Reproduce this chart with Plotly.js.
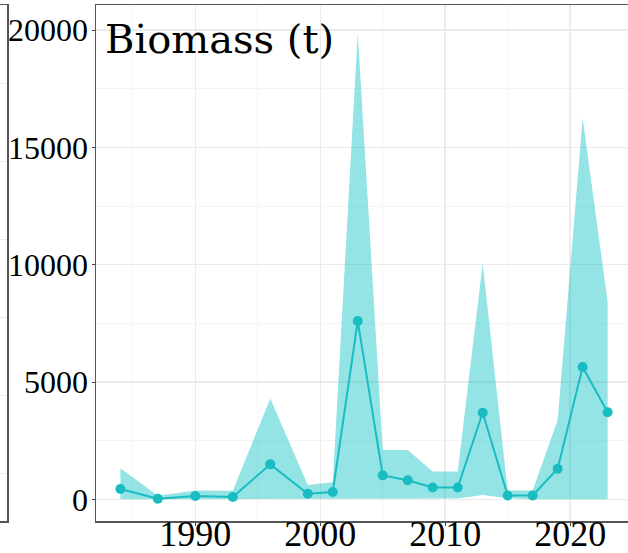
<!DOCTYPE html>
<html>
<head>
<meta charset="utf-8">
<script src="https://cdn.plot.ly/plotly-3.0.1.min.js"></script>
<style>
  html, body { margin: 0; padding: 0; overflow: hidden; background: #fff; }
  #chart { width: 632px; height: 553px; }
</style>
</head>
<body>
<div id="chart"></div>
<script>
// survey years and biomass estimate with its interval
var years = [1984, 1987, 1990, 1993, 1996, 1999, 2001, 2003, 2005, 2007, 2009, 2011, 2013, 2015, 2017, 2019, 2021, 2023];
var biomass = [440, 25, 140, 100, 1490, 240, 310, 7600, 1020, 810, 500, 500, 3690, 160, 160, 1300, 5640, 3710];
var upper = [1320, 150, 370, 360, 4300, 610, 725, 19900, 2100, 2100, 1180, 1180, 10050, 370, 370, 3380, 16240, 8420];
var lower = [0, 0, 0, 0, 0, 0, 0, 0, 0, 0, 0, 30, 180, 50, 0, 0, 0, 0];

var col = "#19bdc1";
var W = 632;

var lowTrace = {
  x: years, y: lower, type: "scatter", mode: "lines",
  line: {width: 0}, hoverinfo: "skip", showlegend: false
};
var upTrace = {
  x: years, y: upper, type: "scatter", mode: "lines",
  fill: "tonexty", fillcolor: "rgba(0,191,196,0.42)",
  line: {width: 0}, hoverinfo: "skip", showlegend: false
};
var mainTrace = {
  x: years, y: biomass, type: "scatter", mode: "lines+markers",
  line: {color: col, width: 2},
  marker: {color: col, size: 10},
  showlegend: false
};

var layout = {
  width: W,
  height: 553,
  margin: {l: 0, r: 0, t: 5, b: 32},
  paper_bgcolor: "#fff",
  plot_bgcolor: "#fff",
  font: {family: "Liberation Serif, serif", color: "#000"},
  xaxis: {
    domain: [96 / W, 1],
    range: [1982.05, 2024.95],
    tickvals: [1990, 2000, 2010, 2020],
    tickfont: {size: 36},
    ticklabelstandoff: -23,
    showgrid: true, gridcolor: "#ebebeb", gridwidth: 1.5,
    minor: {tickvals: [1985, 1995, 2005, 2015, 2025], showgrid: true, gridcolor: "#f4f4f4", gridwidth: 1},
    ticks: "outside", ticklen: 3, tickcolor: "#444",
    showline: true, mirror: true, linecolor: "#555", linewidth: 1.5,
    zeroline: false
  },
  yaxis: {
    range: [-925, 21070],
    tickvals: [0, 5000, 10000, 15000, 20000],
    tickformat: "d",
    tickfont: {size: 32},
    ticklabelstandoff: -3,
    showgrid: true, gridcolor: "#ebebeb", gridwidth: 1.5,
    minor: {tickvals: [2500, 7500, 12500, 17500], showgrid: true, gridcolor: "#f4f4f4", gridwidth: 1},
    ticks: "outside", ticklen: 3, tickcolor: "#444",
    showline: true, mirror: true, linecolor: "#555", linewidth: 1.5,
    zeroline: false
  },
  // sliver of the neighbouring facet panel on the left
  xaxis2: {
    domain: [0, 7 / W], anchor: "y2", range: [0, 1],
    showticklabels: false, showgrid: false, zeroline: false,
    showline: true, mirror: true, linecolor: "#555", linewidth: 1.5
  },
  yaxis2: {
    anchor: "x2", side: "right", range: [0, 516],
    tick0: 48, dtick: 78, showticklabels: false,
    showgrid: true, gridcolor: "#ebebeb", gridwidth: 1,
    zeroline: false, showline: true, linecolor: "#555", linewidth: 1.5
  },
  annotations: [{
    text: "Biomass (t)",
    xref: "paper", yref: "paper",
    x: 103 / W, y: 1 - 9 / 516,
    xanchor: "left", yanchor: "top",
    showarrow: false,
    font: {family: "DejaVu Serif, serif", size: 40, color: "#000"}
  }]
};

var blank = {x: [0], y: [0], xaxis: "x2", yaxis: "y2", mode: "none", showlegend: false, hoverinfo: "skip"};

Plotly.newPlot("chart", [lowTrace, upTrace, mainTrace, blank], layout, {displayModeBar: false, staticPlot: true});
</script>
</body>
</html>
